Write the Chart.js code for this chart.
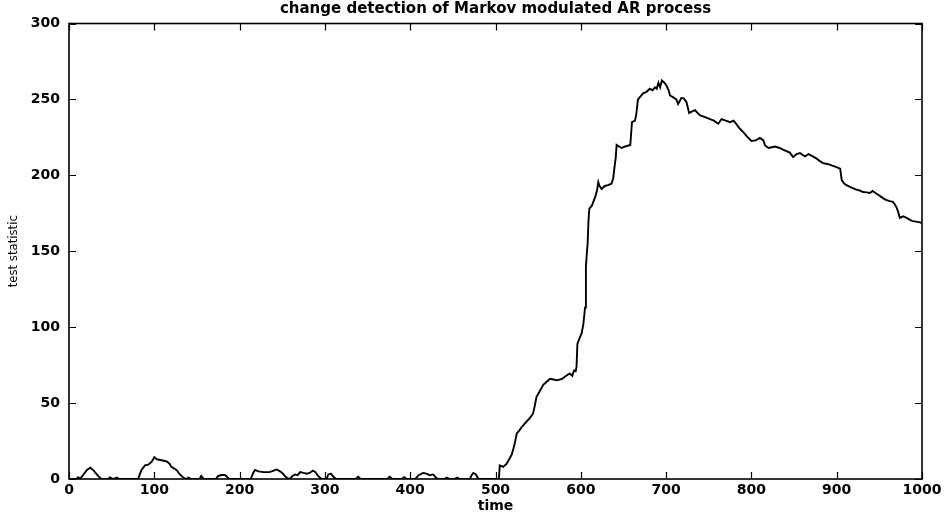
<!DOCTYPE html>
<html>
<head>
<meta charset="utf-8">
<title>change detection of Markov modulated AR process</title>
<script src="https://cdn.jsdelivr.net/npm/chart.js@4/dist/chart.umd.min.js"></script>
<style>
  html, body { margin: 0; padding: 0; background: #fff; }
  #wrap { width: 946px; height: 518px; position: relative; }
</style>
</head>
<body>
<div id="wrap"><canvas id="chart"></canvas></div>
<script>
// ── DATA ─────────────────────────────────────────
// time index and test statistic
const TIME = [
  0, 8, 11, 13, 17, 21, 25, 29, 34, 38, 46, 48, 52, 56, 59,
  81, 83, 85, 89, 93, 97, 100, 103, 107, 111, 115, 118, 120, 123, 126, 130, 134, 137, 140, 143,
  153, 155, 158, 172, 175, 179, 183, 186, 188, 200,
  213, 216, 218, 222, 228, 235, 240, 243.5, 247, 250, 253, 256, 259, 262, 265, 268, 271, 275,
  278.5, 282, 286, 289, 292, 296, 302, 304, 307, 310, 313,
  336, 339, 342, 373, 376, 379, 390, 393, 396, 406, 410, 415, 419, 423, 427, 430, 433,
  440, 443, 446, 452, 455, 458, 470, 472, 474, 477, 480,
  504, 505, 509, 513, 516, 519, 522, 525, 528, 531, 535, 540, 544, 546, 548, 552, 556, 560,
  564, 568, 572, 578, 583, 587, 590, 592, 594, 595, 596, 598, 601, 603, 605, 606, 607, 608,
  609, 610, 613, 617, 619, 620.5, 622, 624.5, 628, 632, 636, 638, 639, 641, 642, 645, 648,
  652, 658, 660, 663.5, 665, 667, 670, 673, 677, 681, 684, 687, 689, 691, 693, 695, 698,
  700.6, 703, 704.6, 708, 712, 714, 716, 718, 721, 724, 727, 730, 734, 737, 740, 745, 751.5,
  756, 761, 765, 770, 775, 779, 782, 786, 790.5, 795, 800, 805, 810, 814, 816, 820, 824, 828,
  833, 837, 841, 845, 849, 853, 857, 860, 863, 867, 872, 876.5, 880, 884, 889, 894, 899, 904,
  906, 909, 912, 917, 923, 927, 931, 935, 939, 942, 945, 949, 953, 957, 962, 966, 968, 970,
  972, 974, 978, 982, 985, 988, 993, 997.6, 1000
];
const TEST_STAT = [
  0, 0, 1.2, 0, 3, 6, 7.4, 5.5, 2, 0, 0, 1, 0, 1, 0,
  0, 3, 6, 9, 9.5, 11.4, 14.3, 13, 12.5, 12, 11.4, 10, 8, 7, 6, 3, 1, 0, 1, 0,
  0, 2, 0, 0, 2, 2.6, 2.6, 1, 0, 0,
  0, 4, 6, 5, 4.5, 4.5, 5.5, 6.3, 5.2, 4, 2, 0.5, 0, 2, 3, 2.5, 4.5, 4,
  3.5, 4, 5.5, 4.5, 2, 0, 0, 3, 3.5, 1.5, 0,
  0, 1.5, 0, 0, 1.5, 0, 0, 1.2, 0, 0, 2.5, 4, 3.5, 2.5, 3, 1, 0,
  0, 1, 0, 0, 1, 0, 0, 2.5, 4, 3, 0,
  0, 9, 8, 10, 13, 16, 22, 30, 32, 34.4, 37, 40, 43, 48, 54, 58, 62, 64,
  66, 65.5, 65, 66, 68, 69.5, 68, 71.5, 71, 74, 89, 92, 96, 102, 113, 140, 148, 155,
  170, 178, 180, 186, 190, 195.6, 193, 191, 193, 193.5, 194.5, 198, 203, 212, 220, 219, 218,
  219, 220, 235, 236, 240, 250, 252, 254, 255, 257, 256, 258, 257, 261, 258, 262.5, 261,
  259, 256, 252.6, 251.5, 250, 247, 249, 251, 250.5, 248, 241, 242, 243, 241, 239.5, 238.5, 237,
  236, 234, 237, 236, 235, 236, 234, 231, 228.5, 225.5, 222.6, 223, 224.6, 223, 219.7, 218, 218.5, 219,
  218, 217, 216, 215, 212, 214, 214.7, 213.5, 212.5, 214, 212.5, 211, 209.5, 208, 207.5, 206.6, 205.5, 204.4,
  196.7, 194.5, 193.4, 192, 190.6, 190, 189, 188.8, 188.4, 189.7, 188.5, 187, 185.5, 184, 183, 182.5, 181, 179,
  176, 172, 173, 172, 171, 170, 169.5, 169, 168.5
];
const X_TICKS = [0, 100, 200, 300, 400, 500, 600, 700, 800, 900, 1000];
const Y_TICKS = [0, 50, 100, 150, 200, 250, 300];

const TICK_LEN = 7;
const INK = "#000";

// ── BOX + INWARD TICKS (matlab style) ─────────────
const frameTicks = {
  id: "frameTicks",
  afterDatasetsDraw(chart) {
    const { ctx, chartArea: a, scales: { x, y } } = chart;
    ctx.save();
    ctx.strokeStyle = INK;
    ctx.lineWidth = 1.6;
    ctx.strokeRect(a.left, a.top, a.right - a.left, a.bottom - a.top);
    ctx.beginPath();
    x.ticks.forEach(t => {
      const px = Math.round(x.getPixelForValue(t.value)) + 0.5;
      ctx.moveTo(px, a.bottom); ctx.lineTo(px, a.bottom - TICK_LEN);
      ctx.moveTo(px, a.top);    ctx.lineTo(px, a.top + TICK_LEN);
    });
    y.ticks.forEach(t => {
      const py = Math.round(y.getPixelForValue(t.value)) + 0.5;
      ctx.moveTo(a.left, py);  ctx.lineTo(a.left + TICK_LEN, py);
      ctx.moveTo(a.right, py); ctx.lineTo(a.right - TICK_LEN, py);
    });
    ctx.lineWidth = 1.2;
    ctx.stroke();
    ctx.restore();
  }
};

// ── CHART ─────────────────────────────────────────
const tickFont = { family: "DejaVu Sans", size: 14, weight: "bold" };

new Chart(document.getElementById("chart"), {
  type: "line",
  data: {
    datasets: [{
      data: TIME.map((t, i) => ({ x: t, y: TEST_STAT[i] })),
      borderColor: INK,
      borderWidth: 1.9,
      pointRadius: 0,
      tension: 0,
      fill: false,
    }],
  },
  options: {
    responsive: true,
    maintainAspectRatio: false,
    animation: false,
    layout: { padding: { left: 0, right: 24, top: 0, bottom: 0 } },
    plugins: {
      legend: { display: false },
      tooltip: { enabled: false },
      title: {
        display: true,
        fullSize: false,
        text: "change detection of Markov modulated AR process",
        color: INK,
        font: { family: "DejaVu Sans", size: 15, weight: "bold", lineHeight: 1.1 },
        padding: { top: 1, bottom: 6 },
      },
    },
    scales: {
      x: {
        type: "linear",
        min: 0,
        max: 1000,
        afterBuildTicks: s => { s.ticks = X_TICKS.map(v => ({ value: v })); },
        afterFit: s => { s.height = 39; },
        grid: { display: false, drawTicks: false },
        border: { display: false },
        ticks: { color: INK, font: tickFont, padding: 3, maxRotation: 0, callback: v => String(v) },
        title: {
          display: true,
          text: "time",
          color: INK,
          font: { family: "DejaVu Sans", size: 14, weight: "bold" },
          padding: { top: 0, bottom: 3 },
        },
      },
      y: {
        type: "linear",
        min: 0,
        max: 300,
        afterBuildTicks: s => { s.ticks = Y_TICKS.map(v => ({ value: v })); },
        afterFit: s => { s.width = 69; },
        grid: { display: false, drawTicks: false },
        border: { display: false },
        ticks: { color: INK, font: tickFont, padding: 9, callback: v => String(v) },
        title: {
          display: true,
          text: "test statistic",
          color: INK,
          font: { family: "'DejaVu Sans Condensed', 'Liberation Sans', sans-serif", size: 13 },
          padding: { top: 6, bottom: 0 },
        },
      },
    },
  },
  plugins: [frameTicks],
});
</script>
</body>
</html>
